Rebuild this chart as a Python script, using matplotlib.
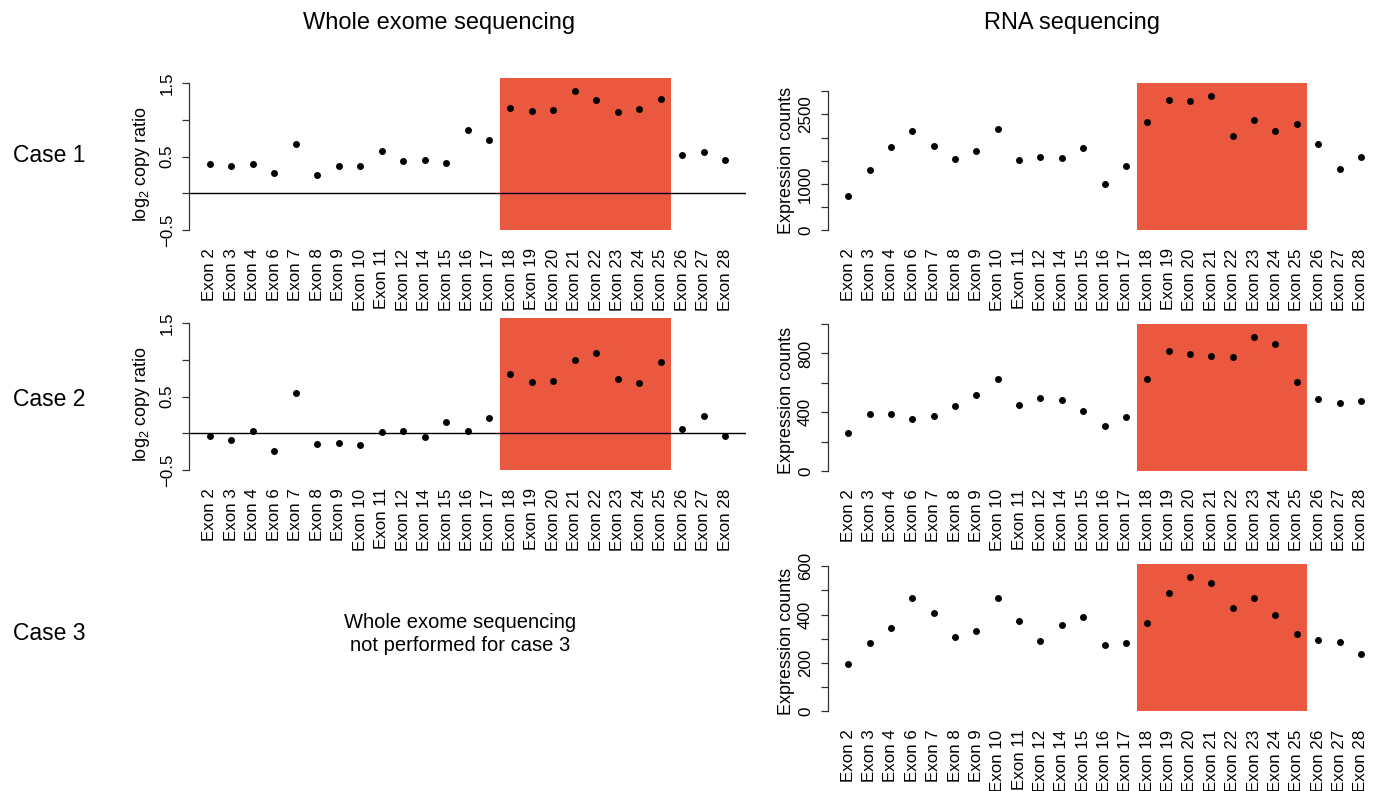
# Exon-level copy ratio (WES) and expression counts (RNA-seq) for three cases.
# Layout is done in figure pixels so the panels line up like the original.
import matplotlib
matplotlib.use("Agg")
import matplotlib.pyplot as plt
from matplotlib.patches import Rectangle

exons = ["Exon 2", "Exon 3", "Exon 4", "Exon 6", "Exon 7", "Exon 8", "Exon 9",
         "Exon 10", "Exon 11", "Exon 12", "Exon 14", "Exon 15", "Exon 16",
         "Exon 17", "Exon 18", "Exon 19", "Exon 20", "Exon 21", "Exon 22",
         "Exon 23", "Exon 24", "Exon 25", "Exon 26", "Exon 27", "Exon 28"]
highlight = ("Exon 18", "Exon 25")

# log2 copy ratio, whole exome sequencing
wes_case1 = [0.405, 0.368, 0.40, 0.28, 0.68, 0.25, 0.373, 0.38, 0.573, 0.44,
             0.46, 0.42, 0.87, 0.727, 1.164, 1.123, 1.136, 1.40, 1.273, 1.109,
             1.155, 1.29, 0.527, 0.564, 0.45]
wes_case2 = [-0.032, -0.095, 0.027, -0.236, 0.55, -0.141, -0.127, -0.155,
             0.018, 0.032, -0.05, 0.159, 0.036, 0.209, 0.814, 0.70, 0.709,
             0.995, 1.091, 0.736, 0.691, 0.973, 0.064, 0.241, -0.032]

# expression counts, RNA sequencing
rna_case1 = [741, 1295, 1799, 2144, 1820, 1532, 1719, 2194, 1511, 1590, 1554,
             1777, 993, 1396, 2345, 2813, 2799, 2892, 2043, 2381, 2144, 2302,
             1863, 1317, 1583]
rna_case2 = [258, 389, 385, 355, 373, 441, 516, 629, 452, 500, 484, 405, 303,
             367, 629, 819, 796, 783, 774, 910, 867, 604, 489, 464, 473]
rna_case3 = [194, 284, 345, 467, 407, 309, 332, 468, 373, 291, 357, 391, 276,
             284, 363, 488, 554, 529, 429, 470, 399, 320, 294, 285, 237]

wes_ticks = [-0.5, 0, 0.5, 1.0, 1.5]
wes_ticklabels = ["\u22120.5", "", "0.5", "", "1.5"]
rna1_ticks = [0, 500, 1000, 1500, 2000, 2500, 3000]
rna1_ticklabels = ["0", "", "1000", "", "", "2500", ""]
rna2_ticks = [0, 200, 400, 600, 800, 1000]
rna2_ticklabels = ["0", "", "400", "", "800", ""]
rna3_ticks = [0, 100, 200, 300, 400, 500, 600]
rna3_ticklabels = ["0", "", "200", "", "400", "", "600"]

plt.rcParams['font.family'] = ['Liberation Sans', 'DejaVu Sans']
plt.rcParams['mathtext.fontset'] = 'custom'
plt.rcParams['mathtext.rm'] = 'Liberation Sans'
plt.rcParams['mathtext.it'] = 'Liberation Sans:italic'

W, H = 1378, 791
fig = plt.figure(figsize=(W / 100, H / 100), dpi=100)
RED = "#EA5840"


def panel(left, right, top, bottom, values, ylim, ticks, ticklabels,
          rect_bottom, zero_line=False):
    ax = fig.add_axes([left / W, 1 - bottom / H, (right - left) / W,
                       (bottom - top) / H])
    x = list(range(len(exons)))
    ax.set_xlim(-0.96, len(exons) - 0.04)
    ax.set_ylim(*ylim)

    # shaded exon block 18-25, up to the top of the plot region
    lo = exons.index(highlight[0]) - 0.5
    hi = exons.index(highlight[1]) + 0.5
    ax.add_patch(Rectangle((lo, rect_bottom), hi - lo, ylim[1] - rect_bottom,
                           facecolor=RED, edgecolor="none", zorder=1))
    if zero_line:
        ax.axhline(0, color="black", lw=1.0, zorder=2)
    ax.plot(x, values, "o", color="black", markersize=5.0,
            markeredgewidth=0, zorder=3, clip_on=False)

    for s in ["top", "right", "bottom"]:
        ax.spines[s].set_visible(False)
    ax.spines["left"].set_bounds(ticks[0], ticks[-1])
    ax.spines["left"].set_linewidth(0.9)
    ax.spines["left"].set_color("#333333")

    ax.set_xticks(x)
    ax.set_xticklabels(exons, rotation=90)
    ax.tick_params(axis="x", length=0, pad=9, labelsize=12.2)
    ax.set_yticks(ticks)
    ax.set_yticklabels(ticklabels, rotation=90, va="center")
    ax.tick_params(axis="y", length=5, width=0.9, color="#333333", pad=5.5,
                   labelsize=12.2)
    ax.patch.set_alpha(0)
    return ax


# Whole exome sequencing column (cases 1 and 2)
for k, vals in enumerate([wes_case1, wes_case2]):
    off = 240 * k
    panel(189.4, 745.6, 77.5 + off, 235.9 + off, vals, (-0.58, 1.58),
          wes_ticks, wes_ticklabels, -0.5, zero_line=True)
    fig.text(141.7 / W, 1 - (164 + off) / H, r"log$_2$ copy ratio",
             rotation=90, ha="center", va="center", fontsize=13)

# RNA sequencing column (cases 1-3)
rna_sets = [(rna_case1, (-123, 3173), rna1_ticks, rna1_ticklabels),
            (rna_case2, (-38, 1002), rna2_ticks, rna2_ticklabels),
            (rna_case3, (-24, 608), rna3_ticks, rna3_ticklabels)]
for k, (vals, ylim, ticks, labels) in enumerate(rna_sets):
    off = 240.5 * k
    panel(827.7, 1381.4, 83.3 + off, 236 + off, vals, ylim, ticks, labels, 0)
    fig.text(786.7 / W, 1 - (160 + off) / H, "Expression counts",
             rotation=90, ha="center", va="center", fontsize=13)

# column titles, row labels and the missing-panel note
fig.text(439 / W, 1 - 23 / H, "Whole exome sequencing", ha="center",
         va="center", fontsize=17)
fig.text(1072 / W, 1 - 23 / H, "RNA sequencing", ha="center", va="center",
         fontsize=17)
for y, name in [(155, "Case 1"), (400, "Case 2"), (633, "Case 3")]:
    fig.text(13 / W, 1 - y / H, name, ha="left", va="center", fontsize=16.5)
fig.text(460 / W, 1 - 634 / H,
         "Whole exome sequencing\nnot performed for case 3",
         ha="center", va="center", fontsize=14.5, linespacing=1.25)

fig.savefig("out.png", dpi=100)
